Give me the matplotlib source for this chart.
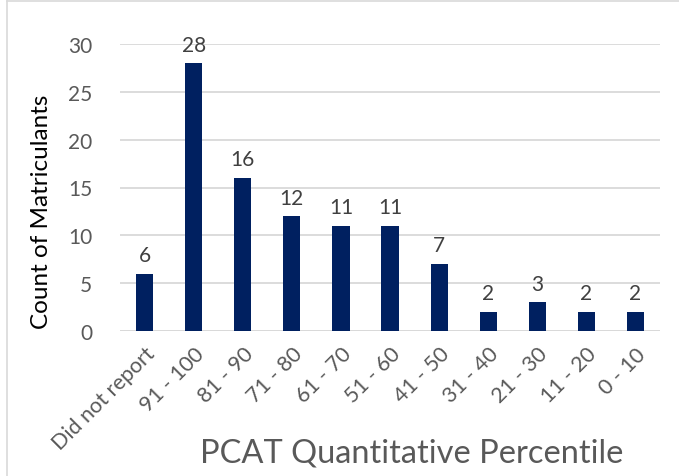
import matplotlib
matplotlib.use("Agg")
import matplotlib.pyplot as plt
from matplotlib.lines import Line2D

categories = ["Did not report", "91 - 100", "81 - 90", "71 - 80", "61 - 70", "51 - 60",
              "41 - 50", "31 - 40", "21 - 30", "11 - 20", "0 - 10"]
counts = [6, 28, 16, 12, 11, 11, 7, 2, 3, 2, 2]
yticks = [0, 5, 10, 15, 20, 25, 30]

plt.rcParams['font.family'] = ['Lato', 'DejaVu Sans']

fig = plt.figure(figsize=(6.79, 4.77), dpi=100)
ax = fig.add_axes([120/679, 1 - 332/477, 540/679, 287/477])

x = list(range(len(categories)))
bars = ax.bar(x, counts, width=0.35, color="#002060", zorder=3)
for xi, v in zip(x, counts):
    ax.text(xi, v + 0.9, str(v), ha="center", va="bottom", fontsize=15, color="#404040")

ax.set_xlim(-0.5, len(categories) - 0.5)
ax.set_ylim(0, 30)
ax.set_yticks(yticks)
ax.set_yticklabels([str(t) for t in yticks], fontsize=15, color="#595959")
ax.set_xticks(x)
ax.set_xticklabels(categories, rotation=45, ha="right", rotation_mode="anchor",
                   fontsize=15.5, color="#595959")
ax.tick_params(axis="y", length=0, pad=20)
ax.tick_params(axis="x", length=0, pad=9)
ax.grid(axis="y", color="#d9d9d9", linewidth=1.3, zorder=0)
for s in ax.spines.values():
    s.set_visible(False)
ax.axhline(0, color="#d9d9d9", linewidth=1.3, zorder=2)

fig.text(42/679, 1 - 212/477, "Count of Matriculants", fontsize=17.5, color="black",
         rotation=90, ha="center", va="center")
fig.text(412/679, 1 - 454/477, "PCAT Quantitative Percentile", fontsize=23.5,
         color="#595959", ha="center", va="center")

# outer chart border (top and left)
fig.add_artist(Line2D([7/679, 7/679], [0, 1 - 2/477], transform=fig.transFigure,
                      color="#d9d9d9", linewidth=1.2))
fig.add_artist(Line2D([7/679, 1], [1 - 2/477, 1 - 2/477], transform=fig.transFigure,
                      color="#d9d9d9", linewidth=1.2))

fig.savefig("out.png", dpi=100)
